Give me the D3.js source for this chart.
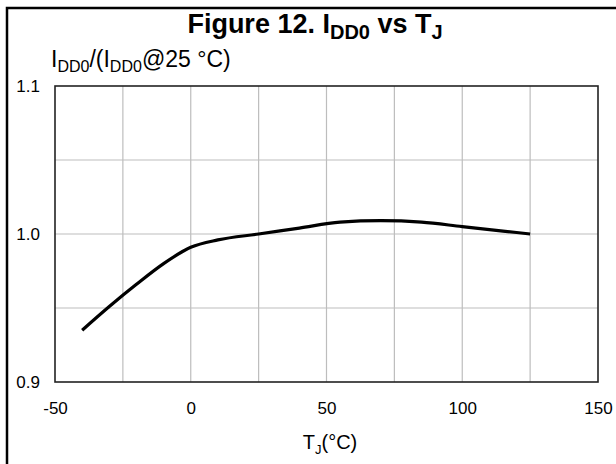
<!DOCTYPE html>
<html>
<head>
<meta charset="utf-8">
<script src="https://cdn.jsdelivr.net/npm/d3@7"></script>
<style>
  body { margin: 0; background: #fff; }
  text { font-family: "Liberation Sans", Arial, sans-serif; fill: #000; }
</style>
</head>
<body>
<svg id="chart" width="616" height="464"></svg>
<script>
// *** Data ***
var tempC = [-40, -30, -20, -10, 0, 10, 25, 40, 55, 70, 85, 100, 115, 125];
var iddRatio = [0.935, 0.951, 0.966, 0.980, 0.991, 0.996, 1.000, 1.004, 1.008, 1.009, 1.008, 1.005, 1.002, 1.000];

var xTicks = [-50, 0, 50, 100, 150];
var xGrid = [-25, 0, 25, 50, 75, 100, 125];
var yTicks = [0.9, 1.0, 1.1];
var yGrid = [0.95, 1.0, 1.05];

var svg = d3.select("#chart");

var margin = {top: 86, right: 18, bottom: 82, left: 55},
    width = 616 - margin.left - margin.right,
    height = 464 - margin.top - margin.bottom;

// outer frame of the figure (right and bottom edges fall outside the picture)
svg.append("rect")
    .attr("x", 7).attr("y", 8)
    .attr("width", 640).attr("height", 480)
    .attr("fill", "none")
    .attr("stroke", "#000")
    .attr("stroke-width", 2.5);

// title with subscripts
var title = svg.append("text")
    .attr("x", 315).attr("y", 33)
    .attr("text-anchor", "middle")
    .attr("font-size", 27)
    .attr("font-weight", "bold");
title.append("tspan").text("Figure 12. I");
title.append("tspan").attr("font-size", 20).attr("dy", 6).text("DD0");
title.append("tspan").attr("dy", -6).text(" vs T");
title.append("tspan").attr("font-size", 20).attr("dy", 6).text("J");

// y axis label
var yLabel = svg.append("text")
    .attr("x", 51).attr("y", 67)
    .attr("font-size", 23);
yLabel.append("tspan").text("I");
yLabel.append("tspan").attr("font-size", 16).attr("dy", 5).text("DD0");
yLabel.append("tspan").attr("dy", -5).text("/(I");
yLabel.append("tspan").attr("font-size", 16).attr("dy", 5).text("DD0");
yLabel.append("tspan").attr("dy", -5).text("@25 °C)");

var x = d3.scaleLinear().domain([-50, 150]).range([0, width]);
var y = d3.scaleLinear().domain([0.9, 1.1]).range([height, 0]);

var g = svg.append("g")
    .attr("transform", "translate(" + margin.left + "," + margin.top + ")");

// grid lines
g.append("g").selectAll("line").data(xGrid).enter().append("line")
    .attr("x1", d => x(d)).attr("x2", d => x(d))
    .attr("y1", 0).attr("y2", height)
    .attr("stroke", "#bdbdbd").attr("stroke-width", 1.2);

g.append("g").selectAll("line").data(yGrid).enter().append("line")
    .attr("x1", 0).attr("x2", width)
    .attr("y1", d => y(d)).attr("y2", d => y(d))
    .attr("stroke", "#bdbdbd").attr("stroke-width", 1.2);

// plot frame
g.append("rect")
    .attr("width", width).attr("height", height)
    .attr("fill", "none")
    .attr("stroke", "#222")
    .attr("stroke-width", 1.6);

// axes (labels only, the frame draws the lines)
var xAxis = d3.axisBottom(x).tickValues(xTicks).tickSize(0).tickPadding(20)
    .tickFormat(d => String(d));
var yAxis = d3.axisLeft(y).tickValues(yTicks).tickSize(0).tickPadding(15)
    .tickFormat(d3.format(".1f"));

var xAxisG = g.append("g")
    .attr("transform", "translate(0," + height + ")")
    .call(xAxis);
var yAxisG = g.append("g").call(yAxis);

[xAxisG, yAxisG].forEach(function (a) {
    a.select(".domain").remove();
    a.selectAll("text")
        .attr("font-family", "Liberation Sans, Arial, sans-serif")
        .attr("font-size", 17)
        .attr("fill", "#000");
});

// x axis title
var xLabel = svg.append("text")
    .attr("x", 330).attr("y", 449)
    .attr("text-anchor", "middle")
    .attr("font-size", 20);
xLabel.append("tspan").text("T");
xLabel.append("tspan").attr("font-size", 13).attr("dy", 5).text("J");
xLabel.append("tspan").attr("dy", -5).text("(°C)");

// data curve
var lineMaker = d3.line()
    .x((d, i) => x(tempC[i]))
    .y(d => y(d))
    .curve(d3.curveMonotoneX);

g.append("path")
    .attr("d", lineMaker(iddRatio))
    .attr("fill", "none")
    .attr("stroke", "#000")
    .attr("stroke-width", 3.2);
</script>
</body>
</html>
